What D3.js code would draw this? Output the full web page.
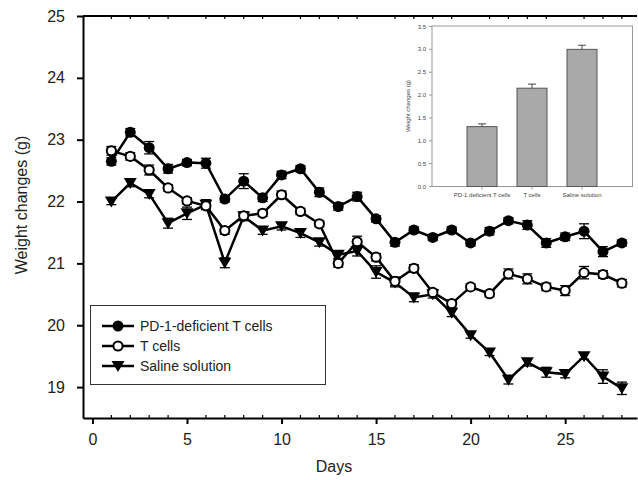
<!DOCTYPE html>
<html>
<head>
    <style>
        body { margin: 0; background: #fff; }
        text { font-family: "Liberation Sans", Arial, sans-serif; fill: #222; }
        .legend text { font-size: 14px; }
        .inset text { font-size: 6px; fill: #444; }
    </style>
    <script src="https://d3js.org/d3.v7.min.js"></script>
</head>
<body>
    <svg width="638" height="480"></svg>
    <script>

        // main chart data
        var days = d3.range(1, 29);
        var pd1 = [22.65, 23.12, 22.87, 22.53, 22.63, 22.62, 22.04, 22.33, 22.06, 22.43, 22.53, 22.15, 21.92, 22.08,
                   21.72, 21.34, 21.54, 21.42, 21.54, 21.33, 21.52, 21.69, 21.62, 21.33, 21.43, 21.52, 21.19, 21.33];
        var pd1Err = [0.06, 0.06, 0.1, 0.07, 0.05, 0.08, 0.05, 0.12, 0.06, 0.06, 0.05, 0.07, 0.06, 0.07,
                      0.05, 0.06, 0.05, 0.05, 0.05, 0.05, 0.06, 0.05, 0.07, 0.07, 0.06, 0.12, 0.08, 0.05];
        var tcells = [22.82, 22.73, 22.51, 22.22, 22.01, 21.93, 21.53, 21.77, 21.81, 22.11, 21.84, 21.64, 21.0, 21.35,
                      21.1, 20.71, 20.92, 20.53, 20.35, 20.62, 20.51, 20.83, 20.75, 20.62, 20.56, 20.85, 20.82, 20.68];
        var tcellsErr = [0.07, 0.06, 0.08, 0.05, 0.05, 0.05, 0.06, 0.06, 0.05, 0.06, 0.05, 0.05, 0.06, 0.09,
                         0.06, 0.07, 0.06, 0.05, 0.06, 0.05, 0.05, 0.08, 0.08, 0.06, 0.08, 0.1, 0.06, 0.06];
        var saline = [22.0, 22.3, 22.12, 21.65, 21.81, 21.95, 21.01, 21.76, 21.53, 21.6, 21.49, 21.34, 21.14, 21.2,
                      20.86, 20.69, 20.45, 20.5, 20.2, 19.84, 19.56, 19.12, 19.4, 19.24, 19.21, 19.5, 19.17, 18.98];
        var salineErr = [0.05, 0.06, 0.06, 0.08, 0.1, 0.08, 0.08, 0.07, 0.06, 0.06, 0.07, 0.06, 0.06, 0.08,
                         0.1, 0.07, 0.07, 0.06, 0.06, 0.05, 0.05, 0.07, 0.06, 0.08, 0.06, 0.05, 0.11, 0.1];
        var xTicks = [0, 5, 10, 15, 20, 25];
        var yTicks = [19, 20, 21, 22, 23, 24, 25];

        // inset data
        var groups = ["PD-1 deficient T cells", "T cells", "Saline solution"];
        var groupMeans = [1.31, 2.15, 3.0];
        var groupErr = [0.06, 0.09, 0.09];
        var insetTicks = [0, 0.5, 1, 1.5, 2, 2.5, 3, 3.5];

        var svg = d3.select("svg");

        var x = d3.scaleLinear().domain([-0.5, 28.8]).range([83, 637]);
        var y = d3.scaleLinear().domain([18.5, 25]).range([418, 16]);

        // top frame line with small inward ticks
        svg.append("line").attr("x1", 83).attr("x2", 637).attr("y1", 16).attr("y2", 16)
           .attr("stroke", "#000").attr("stroke-width", 2);
        svg.selectAll(".topminor").data(d3.range(1, 29).filter(function(d) { return d % 5 != 0; }))
           .enter().append("line")
           .attr("x1", function(d) { return x(d); }).attr("x2", function(d) { return x(d); })
           .attr("y1", 16).attr("y2", 19).attr("stroke", "#000").attr("stroke-width", 1.2);

        // x axis
        var xAxis = svg.append("g").attr("transform", "translate(0,418)")
            .call(d3.axisBottom(x).tickValues(xTicks).tickSize(6).tickPadding(10).tickSizeOuter(0));
        xAxis.select(".domain").attr("stroke-width", 2);
        xAxis.selectAll(".tick line").attr("stroke-width", 2);
        xAxis.selectAll("text").style("font-size", "16px").attr("fill", "#222");
        svg.selectAll(".xminor").data(d3.range(1, 29).filter(function(d) { return d % 5 != 0; }))
           .enter().append("line")
           .attr("x1", function(d) { return x(d); }).attr("x2", function(d) { return x(d); })
           .attr("y1", 418).attr("y2", 415).attr("stroke", "#000").attr("stroke-width", 1.2);

        // y axis
        var yAxis = svg.append("g").attr("transform", "translate(83,0)")
            .call(d3.axisLeft(y).tickValues(yTicks).tickFormat(d3.format("d"))
                    .tickSize(6).tickPadding(12).tickSizeOuter(0));
        yAxis.select(".domain").attr("stroke-width", 2);
        yAxis.selectAll(".tick line").attr("stroke-width", 2);
        yAxis.selectAll("text").style("font-size", "16px").attr("fill", "#222");

        svg.append("text").attr("x", 334).attr("y", 472).attr("text-anchor", "middle")
           .style("font-size", "16px").text("Days");
        svg.append("text").attr("transform", "translate(27,205) rotate(-90)").attr("text-anchor", "middle")
           .style("font-size", "16px").text("Weight changes (g)");

        // series
        var series = [
            { name: "PD-1-deficient T cells", values: pd1, err: pd1Err, marker: "filled" },
            { name: "T cells", values: tcells, err: tcellsErr, marker: "open" },
            { name: "Saline solution", values: saline, err: salineErr, marker: "tri" }
        ];

        var line = d3.line()
            .x(function(d, i) { return x(days[i]); })
            .y(function(d) { return y(d); });

        var triangle = "M-6.5,-5L6.5,-5L0,6Z";

        function drawMarker(g, type) {
            if (type == "tri") {
                g.append("path").attr("d", triangle).attr("fill", "#000");
            } else {
                g.append("circle").attr("r", type == "open" ? 4.6 : 5.5)
                 .attr("fill", type == "open" ? "#fff" : "#000")
                 .attr("stroke", "#000").attr("stroke-width", type == "open" ? 2 : 0);
            }
        }

        // draw saline first so circles sit on top
        [series[2], series[1], series[0]].forEach(function(s) {
            var g = svg.append("g");
            s.values.forEach(function(v, i) {
                var cx = x(days[i]);
                g.append("line").attr("x1", cx).attr("x2", cx)
                 .attr("y1", y(v - s.err[i])).attr("y2", y(v + s.err[i]))
                 .attr("stroke", "#000").attr("stroke-width", 1.3);
                [v - s.err[i], v + s.err[i]].forEach(function(e) {
                    g.append("line").attr("x1", cx - 5).attr("x2", cx + 5)
                     .attr("y1", y(e)).attr("y2", y(e))
                     .attr("stroke", "#000").attr("stroke-width", 1.3);
                });
            });
            g.append("path").datum(s.values).attr("d", line)
             .attr("fill", "none").attr("stroke", "#000").attr("stroke-width", 2.5);
            s.values.forEach(function(v, i) {
                var m = g.append("g").attr("transform", "translate(" + x(days[i]) + "," + y(v) + ")");
                drawMarker(m, s.marker);
            });
        });

        // legend
        var legend = svg.append("g").attr("class", "legend");
        legend.append("rect").attr("x", 90.5).attr("y", 305.5).attr("width", 235).attr("height", 79)
              .attr("fill", "#fff").attr("stroke", "#333").attr("stroke-width", 1);
        series.forEach(function(s, i) {
            var ly = 326 + i * 20;
            legend.append("line").attr("x1", 102).attr("x2", 134).attr("y1", ly).attr("y2", ly)
                  .attr("stroke", "#000").attr("stroke-width", 2.5);
            var m = legend.append("g").attr("transform", "translate(118," + ly + ")");
            drawMarker(m, s.marker);
            legend.append("text").attr("x", 140).attr("y", ly + 5).text(s.name);
        });

        // inset bar chart
        var inset = svg.append("g").attr("class", "inset");
        var ix = d3.scaleLinear().domain([0, 4]).range([432, 632]);
        var iy = d3.scaleLinear().domain([0, 3.5]).range([186.5, 26.5]);

        inset.append("rect").attr("x", 432).attr("y", 26).attr("width", 200.5).attr("height", 160.5)
             .attr("fill", "#fff").attr("stroke", "#999").attr("stroke-width", 1);

        inset.selectAll(".ytick").data(insetTicks).enter().append("line")
             .attr("x1", 429).attr("x2", 432)
             .attr("y1", function(d) { return iy(d); }).attr("y2", function(d) { return iy(d); })
             .attr("stroke", "#999");
        inset.selectAll(".ylab").data(insetTicks).enter().append("text")
             .attr("x", 426).attr("y", function(d) { return iy(d) + 2; })
             .attr("text-anchor", "end").text(function(d) { return d.toFixed(1); });

        inset.selectAll(".bar").data(groupMeans).enter().append("rect")
             .attr("x", function(d, i) { return ix(i + 1) - 15; })
             .attr("y", function(d) { return iy(d); })
             .attr("width", 30)
             .attr("height", function(d) { return iy(0) - iy(d); })
             .attr("fill", "#a9a9a9").attr("stroke", "#555").attr("stroke-width", 1);

        inset.selectAll(".errv").data(groupMeans).enter().append("line")
             .attr("x1", function(d, i) { return ix(i + 1); }).attr("x2", function(d, i) { return ix(i + 1); })
             .attr("y1", function(d) { return iy(d); })
             .attr("y2", function(d, i) { return iy(d + groupErr[i]); })
             .attr("stroke", "#444");
        inset.selectAll(".errc").data(groupMeans).enter().append("line")
             .attr("x1", function(d, i) { return ix(i + 1) - 4; }).attr("x2", function(d, i) { return ix(i + 1) + 4; })
             .attr("y1", function(d, i) { return iy(d + groupErr[i]); })
             .attr("y2", function(d, i) { return iy(d + groupErr[i]); })
             .attr("stroke", "#444");

        inset.selectAll(".xtick").data(groups).enter().append("line")
             .attr("x1", function(d, i) { return ix(i + 1); }).attr("x2", function(d, i) { return ix(i + 1); })
             .attr("y1", 186.5).attr("y2", 189.5).attr("stroke", "#999");
        inset.selectAll(".xlab").data(groups).enter().append("text")
             .attr("x", function(d, i) { return ix(i + 1); }).attr("y", 197)
             .attr("text-anchor", "middle").text(function(d) { return d; });

        inset.append("text").attr("transform", "translate(410,106) rotate(-90)")
             .attr("text-anchor", "middle").text("Weight changes (g)");

    </script>
</body>
</html>
